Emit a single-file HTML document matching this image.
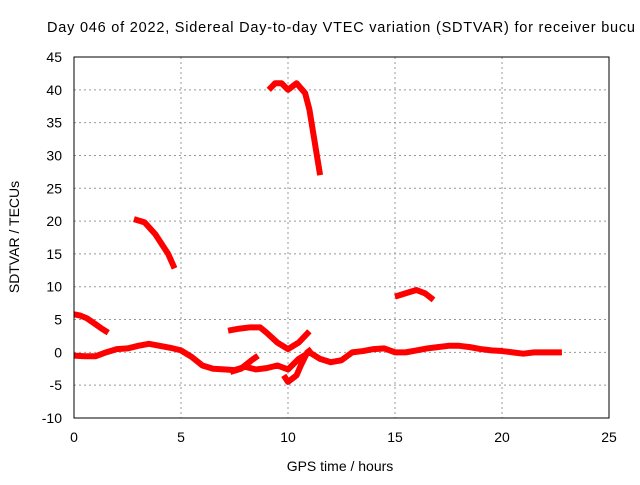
<!DOCTYPE html>
<html><head><meta charset="utf-8"><style>
body{margin:0;background:#fff;width:640px;height:480px;overflow:hidden}
svg{font-family:"Liberation Sans",sans-serif;font-size:14px}
</style></head><body>
<svg id="c" width="640" height="480">
<text x="47" y="32" font-size="14.5" textLength="588" lengthAdjust="spacing">Day 046 of 2022, Sidereal Day-to-day VTEC variation (SDTVAR) for receiver bucu</text>
<text x="340" y="471" text-anchor="middle">GPS time / hours</text>
<text transform="translate(19,237) rotate(-90)" text-anchor="middle">SDTVAR / TECUs</text>
<g id="grid"></g><g id="ticks"></g><g id="series"></g>
<rect x="74" y="57" width="535" height="361" fill="none" stroke="#000"/>
</svg>
<script>
const xTicks=[0,5,10,15,20,25];
const yTicks=[-10,-5,0,5,10,15,20,25,30,35,40,45];
const mainT=[0,0.5,1,1.5,2,2.5,3,3.5,4,4.5,5,5.5,6,6.5,7,7.5,8,8.5,9,9.5,10,10.5,11,11.5,12,12.5,13,13.5,14,14.5,15,15.5,16,16.5,17,17.5,18,18.5,19,19.5,20,20.5,21,21.5,22,22.8];
const mainV=[-0.5,-0.6,-0.6,0,0.5,0.6,1,1.3,1,0.7,0.3,-0.7,-2,-2.5,-2.6,-2.7,-2.2,-2.6,-2.4,-2,-2.6,-1,0,-1,-1.5,-1.2,0,0.2,0.5,0.6,0,0,0.3,0.6,0.8,1,1,0.8,0.5,0.3,0.2,0,-0.2,0,0,0];
const branchT=[7.3,7.8,8.3,8.6];
const branchV=[-3,-2.5,-1.2,-0.5];
const dipT=[9.8,10,10.2,10.4,10.6,10.9,11.1];
const dipV=[-3.5,-4.5,-4,-3.5,-2,0,0.5];
const upperT=[7.2,7.7,8.2,8.7,9,9.5,10,10.5,11];
const upperV=[3.3,3.6,3.8,3.8,3,1.5,0.5,1.5,3.2];
const s3T=[0,0.3,0.6,1,1.3,1.6];
const s3V=[5.8,5.6,5.2,4.3,3.6,3];
const s4T=[2.8,3.3,3.8,4.1,4.4,4.7];
const s4V=[20.3,19.8,18,16.5,15,12.8];
const s5T=[9.1,9.4,9.7,10,10.4,10.8,11,11.2,11.35,11.5];
const s5V=[40,41,41,40,41,39.5,37,33,30,27];
const s6T=[15,15.5,16,16.4,16.8];
const s6V=[8.5,9,9.5,9,8];
const X=t=>74+t*535/25, Y=v=>418-(v+10)*361/55;
const ns="http://www.w3.org/2000/svg";
const grid=document.getElementById('grid'),ticks=document.getElementById('ticks'),ser=document.getElementById('series');
function mk(tag,a,p){const e=document.createElementNS(ns,tag);for(const k in a)e.setAttribute(k,a[k]);p.appendChild(e);return e;}
xTicks.forEach(t=>{
  if(t>0&&t<25){const g=mk('line',{x1:X(t),x2:X(t),y1:57,y2:418,stroke:'#999','stroke-dasharray':'2,3'},grid);
  
  }
  const l=mk('text',{x:X(t),y:442,'text-anchor':'middle'},ticks);l.textContent=t;
  
  
});
yTicks.forEach(v=>{
  if(v>-10&&v<45){const g=mk('line',{x1:74,x2:609,y1:Y(v),y2:Y(v),stroke:'#999','stroke-dasharray':'2,3'},grid);
  
  }
  const l=mk('text',{x:62,y:Y(v)+5,'text-anchor':'end'},ticks);l.textContent=v;
  
  
});
[[mainT,mainV,'series-main'],[branchT,branchV,'series-branch'],[dipT,dipV,'series-dip'],[upperT,upperV,'series-upper'],[s3T,s3V,'series-early'],[s4T,s4V,'series-20'],[s5T,s5V,'series-40'],[s6T,s6V,'series-9']].forEach(([ts,vs,n])=>{
  const p=mk('polyline',{points:ts.map((t,i)=>X(t)+','+Y(vs[i])).join(' '),fill:'none',stroke:'#f00','stroke-width':6,'stroke-linejoin':'round'},ser);
  
  
});
</script>
</body></html>
